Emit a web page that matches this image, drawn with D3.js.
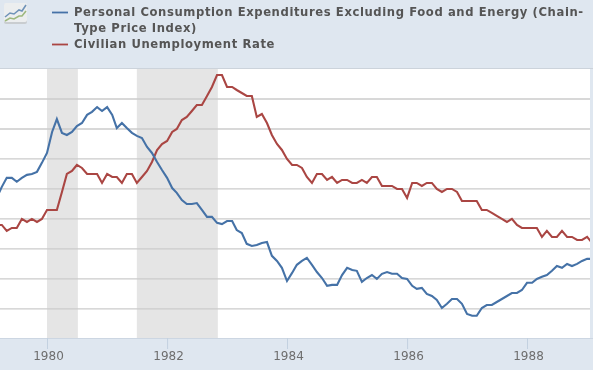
<!DOCTYPE html>
<html>
<head>
<meta charset="utf-8">
<script src="https://cdn.jsdelivr.net/npm/d3@7"></script>
<style>
  html, body { margin: 0; padding: 0; background: #dfe7f0; }
  svg { display: block; filter: blur(0.45px); }
  text { font-family: "DejaVu Sans", sans-serif; }
</style>
</head>
<body>
<svg id="chart" width="593" height="370"></svg>
<script>
// Monthly values, Mar 1979 to Feb 1989
const pceValues = [
  6.7, 7.07, 7.37, 7.37, 7.24, 7.37, 7.47, 7.5, 7.57, 7.87,
  8.2, 8.9, 9.33, 8.87, 8.8, 8.9, 9.1, 9.2, 9.47, 9.57, 9.73, 9.6,
  9.73, 9.47, 9.03, 9.2, 9.03, 8.87, 8.77, 8.7, 8.4, 8.2, 7.9, 7.63,
  7.37, 7.03, 6.87, 6.63, 6.5, 6.5, 6.53, 6.3, 6.07, 6.07, 5.87, 5.83,
  5.93, 5.93, 5.63, 5.53, 5.17, 5.1, 5.13, 5.2, 5.23, 4.77, 4.6, 4.37,
  3.93, 4.2, 4.47, 4.6, 4.7, 4.47, 4.23, 4.03, 3.77, 3.8, 3.8, 4.13,
  4.37, 4.3, 4.27, 3.9, 4.03, 4.13, 4.0, 4.17, 4.23, 4.17, 4.17, 4.03,
  4.0, 3.77, 3.67, 3.7, 3.5, 3.43, 3.3, 3.03, 3.17, 3.33, 3.33, 3.17,
  2.83, 2.77, 2.77, 3.03, 3.13, 3.13, 3.23, 3.33, 3.43, 3.53, 3.53, 3.63,
  3.87, 3.87, 4.0, 4.07, 4.13, 4.27, 4.43, 4.37, 4.5, 4.43, 4.5, 4.6,
  4.67, 4.67
]
const unemploymentValues = [
  5.8, 5.8, 5.6, 5.7, 5.7, 6.0, 5.9, 6.0, 5.9, 6.0,
  6.3, 6.3, 6.3, 6.9, 7.5, 7.6, 7.8, 7.7, 7.5, 7.5, 7.5, 7.2,
  7.5, 7.4, 7.4, 7.2, 7.5, 7.5, 7.2, 7.4, 7.6, 7.9, 8.3, 8.5,
  8.6, 8.9, 9.0, 9.3, 9.4, 9.6, 9.8, 9.8, 10.1, 10.4, 10.8, 10.8,
  10.4, 10.4, 10.3, 10.2, 10.1, 10.1, 9.4, 9.5, 9.2, 8.8, 8.5, 8.3,
  8.0, 7.8, 7.8, 7.7, 7.4, 7.2, 7.5, 7.5, 7.3, 7.4, 7.2, 7.3,
  7.3, 7.2, 7.2, 7.3, 7.2, 7.4, 7.4, 7.1, 7.1, 7.1, 7.0, 7.0,
  6.7, 7.2, 7.2, 7.1, 7.2, 7.2, 7.0, 6.9, 7.0, 7.0, 6.9, 6.6,
  6.6, 6.6, 6.6, 6.3, 6.3, 6.2, 6.1, 6.0, 5.9, 6.0, 5.8, 5.7,
  5.7, 5.7, 5.7, 5.4, 5.6, 5.4, 5.4, 5.6, 5.4, 5.4, 5.3, 5.3,
  5.4, 5.2
]
const months = d3.timeMonth.range(new Date(1979, 2, 1), new Date(1989, 2, 1))
const recessions = [
  [new Date(1980, 0, 1), new Date(1980, 6, 7)],
  [new Date(1981, 6, 1), new Date(1982, 10, 6)]
]
const gridValues = [3, 4, 5, 6, 7, 8, 9, 10]
const tickYears = [1980, 1982, 1984, 1986, 1988]
const legendNames = ["Personal Consumption Expenditures Excluding Food and Energy (Chain-", "Type Price Index)", "Civilian Unemployment Rate"]

const blue = "#4572a7"
const red = "#aa4643"

const plot = { left: 0, right: 590, top: 69, bottom: 338 }

let svg = d3.select("#chart")

let x = d3.scaleTime()
  .domain([new Date(1980, 0, 1), new Date(1988, 0, 1)])
  .range([47, 527])
let y = d3.scaleLinear()
  .domain([2.03, 11])
  .range([plot.bottom, plot.top])

svg.append("clipPath").attr("id", "plot-clip")
  .append("rect")
  .attr("x", plot.left).attr("y", plot.top)
  .attr("width", plot.right - plot.left).attr("height", plot.bottom - plot.top)

svg.append("rect")
  .attr("x", plot.left).attr("y", plot.top)
  .attr("width", plot.right - plot.left).attr("height", plot.bottom - plot.top)
  .attr("fill", "white")

svg.append("line")
  .attr("x1", 0).attr("x2", 593)
  .attr("y1", plot.top - 0.5).attr("y2", plot.top - 0.5)
  .attr("stroke", "#ccd3db")

svg.selectAll("rect.recession")
  .data(recessions)
  .enter()
    .append("rect")
    .attr("class", "recession")
    .attr("x", d => x(d[0]))
    .attr("width", d => x(d[1]) - x(d[0]))
    .attr("y", plot.top)
    .attr("height", plot.bottom - plot.top)
    .attr("fill", "#e5e5e5")

svg.selectAll("line.grid")
  .data(gridValues)
  .enter()
    .append("line")
    .attr("class", "grid")
    .attr("x1", plot.left).attr("x2", plot.right)
    .attr("y1", d => y(d)).attr("y2", d => y(d))
    .attr("stroke", "#cbcbcb")
    .attr("stroke-width", 1.3)

let line = d3.line()
  .x((d, i) => x(months[i]))
  .y(d => y(d))

svg.append("path")
  .attr("d", line(unemploymentValues))
  .attr("clip-path", "url(#plot-clip)")
  .attr("fill", "none").attr("stroke", red).attr("stroke-width", 2.1)
svg.append("path")
  .attr("d", line(pceValues))
  .attr("clip-path", "url(#plot-clip)")
  .attr("fill", "none").attr("stroke", blue).attr("stroke-width", 2.1)

let xAxis = d3.axisBottom(x)
  .tickValues(tickYears.map(yr => new Date(yr, 0, 1)))
  .tickFormat(d3.timeFormat("%Y"))
  .tickSize(11)
  .tickPadding(2)
let axisGroup = svg.append("g")
  .attr("transform", `translate(0,${plot.bottom})`)
  .call(xAxis)
axisGroup.select(".domain").attr("stroke", "#ccd6e2").attr("d", "M0,0.5H593")
axisGroup.selectAll(".tick line").attr("stroke", "#c3d1e0")
axisGroup.selectAll(".tick text")
  .attr("fill", "#6e6e6e")
  .attr("dx", 1)
  .style("font-family", '"DejaVu Sans", sans-serif')
  .style("font-size", "12px")

// Legend
const legendRows = [
  { text: legendNames[0], baseline: 16, color: blue },
  { text: legendNames[1], baseline: 32, color: null },
  { text: legendNames[2], baseline: 48, color: red }
]
let legend = svg.append("g")
legend.selectAll("text")
  .data(legendRows)
  .enter()
    .append("text")
    .attr("x", 74)
    .attr("y", d => d.baseline)
    .attr("fill", "#555555")
    .style("font-size", "11.6px")
    .style("font-weight", "bold")
    .style("letter-spacing", "0.6px")
    .text(d => d.text)
legend.selectAll("line")
  .data(legendRows.filter(d => d.color))
  .enter()
    .append("line")
    .attr("x1", 52).attr("x2", 68)
    .attr("y1", d => d.baseline - 3.5).attr("y2", d => d.baseline - 3.5)
    .attr("stroke", d => d.color)
    .attr("stroke-width", 1.8)

// Little chart icon in the corner
const iconBlue = [[5, 17], [10, 13], [14, 14], [19, 10], [22, 11], [26, 5]]
const iconGreen = [[5, 21], [10, 18], [14, 19], [19, 16], [22, 16], [26, 11]]
let icon = svg.append("g")
icon.append("rect")
  .attr("x", 4).attr("y", 4).attr("width", 23).attr("height", 20).attr("rx", 2)
  .attr("fill", "#c9cdd0")
icon.append("rect")
  .attr("x", 4).attr("y", 3).attr("width", 23).attr("height", 19).attr("rx", 2)
  .attr("fill", "#eceeef")
icon.append("path").attr("d", d3.line()(iconGreen))
  .attr("fill", "none").attr("stroke", "#9db87e").attr("stroke-width", 1.6)
icon.append("path").attr("d", d3.line()(iconBlue))
  .attr("fill", "none").attr("stroke", "#6f93b8").attr("stroke-width", 1.6)
</script>
</body>
</html>
